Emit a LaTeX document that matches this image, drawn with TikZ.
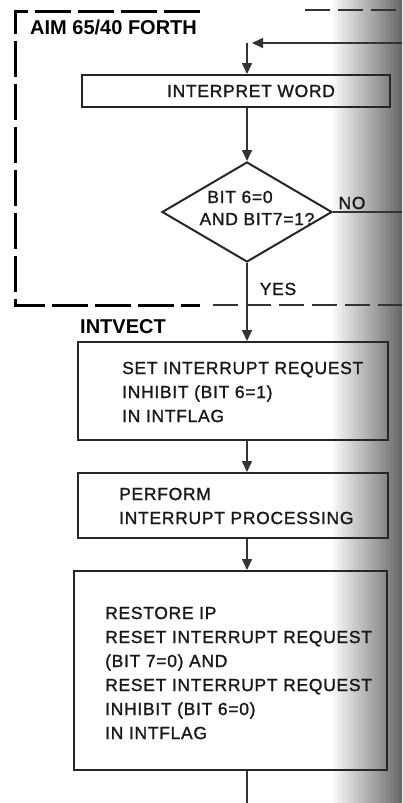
\documentclass[tikz,border=0pt]{standalone}
\usepackage{fontspec}
\setmainfont{Liberation Sans}[LetterSpace=4, FakeBold=1.3]
\newfontfamily\hdfont{Liberation Sans}
\usetikzlibrary{shapes.geometric,arrows.meta}
\begin{document}
\begin{tikzpicture}[x=1pt,y=-1pt,
  box/.style={draw=black!85, line width=2pt, inner sep=0pt},
  txt/.style={font=\fontsize{17.5}{24}\selectfont, text=black!90, inner sep=0pt, align=left},
  hd/.style={font=\hdfont\fontsize{20}{24}\bfseries\selectfont, text=black, inner sep=0pt},
  conn/.style={draw=black!80, line width=1.6pt},
  arr/.style={conn, -{Triangle[length=11pt,width=10pt]}},
  framedash/.style={draw=black, line width=3pt, dash pattern=on 36pt off 7pt},
  thindash/.style={draw=black!80, line width=1.6pt, dash pattern=on 25pt off 8pt}
]
\useasboundingbox (0,0) rectangle (402,803);
\shade[left color=white, right color=black!60] (330,0) rectangle (402,803);

% frame of AIM 65/40 FORTH
\draw[framedash] (200,11) -- (15,11) -- (15,305) -- (200,305);
\draw[thindash] (305,10) -- (402,10);
\draw[thindash] (213,305) -- (402,305);
\node[hd, anchor=west] (title) at (30,27) {AIM 65/40 FORTH};
\node[hd, anchor=west] (intvect) at (80,327) {INTVECT};

% boxes
\node[box, minimum width=308pt, minimum height=32pt] (b1) at (236,91) {};
\node[txt] (t1) at (251,91) {INTERPRET WORD};

\node[draw=black!85, line width=2pt, diamond, minimum width=170pt, minimum height=100pt, inner sep=0pt] (d) at (247,212) {};
\node[txt] (dt1) at (240,197) {BIT 6=0};
\node[txt] (dt2) at (257,219) {AND BIT7=1?};

\node[box, minimum width=310pt, minimum height=98pt] (b2) at (233,391) {};
\node[txt, anchor=west] (t2) at (122,392) {SET INTERRUPT REQUEST\\INHIBIT (BIT 6=1)\\IN INTFLAG};

\node[box, minimum width=310pt, minimum height=65pt] (b3) at (233,505.5) {};
\node[txt, anchor=west] (t3) at (119,506) {PERFORM\\INTERRUPT PROCESSING};

\node[box, minimum width=313pt, minimum height=199pt] (b4) at (230.5,670.5) {};
\node[txt, anchor=west] (t4) at (105,673) {RESTORE IP\\RESET INTERRUPT REQUEST\\(BIT 7=0) AND\\RESET INTERRUPT REQUEST\\INHIBIT (BIT 6=0)\\IN INTFLAG};

\node[txt] (no) at (352,203) {NO};
\node[txt] (yes) at (278,289) {YES};

% connectors
\coordinate (loopin) at (402,43);
\coordinate (loopc) at (247,43);
\coordinate (noout) at (402,212);
\coordinate (exitb) at (247,803);
\draw[arr] (loopin) -- ([xshift=5pt]loopc);
\draw[arr] (loopc) -- (loopc |- b1.north);
\draw[arr] (loopc |- b1.south) -- (d.north);
\draw[conn] (d.east) -- (noout);
\draw[arr] (d.south) -- (d.south |- b2.north);
\draw[arr] (d.south |- b2.south) -- (d.south |- b3.north);
\draw[arr] (d.south |- b3.south) -- (d.south |- b4.north);
\draw[conn] (d.south |- b4.south) -- (exitb);
\end{tikzpicture}
\end{document}
